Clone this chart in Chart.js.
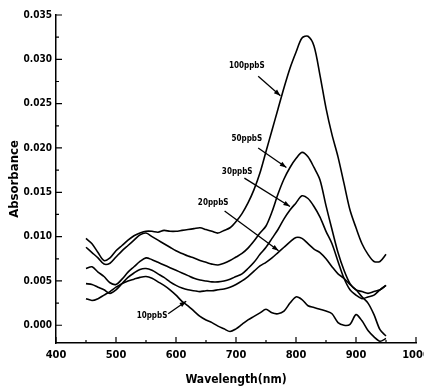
<!DOCTYPE html>
<html>
<head>
<meta charset="utf-8">
<script src="https://cdn.jsdelivr.net/npm/chart.js@4/dist/chart.umd.min.js"></script>
<style>
  html, body { margin: 0; padding: 0; background: #fff; }
  #wrap { width: 424px; height: 390px; position: relative; }
</style>
</head>
<body>
<div id="wrap"><canvas id="absChart"></canvas></div>
<script>
// Longitudes de onda (nm) y absorbancia de cada concentracion
const wavelengths = [450,460,470,480,490,500,510,520,530,540,550,560,570,580,590,600,610,620,630,640,650,660,670,680,690,700,710,720,730,740,750,760,770,780,790,800,810,820,830,840,850,860,870,880,890,900,910,920,930,940,950];

const abs100 = [0.0098,0.0092,0.0082,0.0073,0.0076,0.0084,0.0090,0.0096,0.0101,0.0104,0.0106,0.0106,0.0105,0.0107,0.0106,0.0106,0.0107,0.0108,0.0109,0.0110,0.0108,0.0106,0.0104,0.0107,0.0110,0.0117,0.0126,0.0138,0.0153,0.0172,0.0196,0.0220,0.0244,0.0268,0.0290,0.0308,0.0324,0.0326,0.0315,0.0282,0.0245,0.0215,0.0190,0.0160,0.0130,0.0110,0.0092,0.0080,0.0072,0.0072,0.0080];
const abs50 = [0.0088,0.0082,0.0076,0.0069,0.0070,0.0077,0.0084,0.0090,0.0096,0.0102,0.0104,0.0100,0.0096,0.0092,0.0088,0.0084,0.0081,0.0078,0.0076,0.0073,0.0071,0.0069,0.0068,0.0070,0.0073,0.0077,0.0081,0.0087,0.0095,0.0104,0.0112,0.0128,0.0148,0.0165,0.0178,0.0188,0.0195,0.0190,0.0178,0.0164,0.0135,0.0108,0.0082,0.0062,0.0047,0.0040,0.0038,0.0036,0.0038,0.0040,0.0045];
const abs30 = [0.0064,0.0066,0.0060,0.0055,0.0048,0.0046,0.0052,0.0060,0.0066,0.0072,0.0076,0.0074,0.0071,0.0068,0.0065,0.0062,0.0059,0.0056,0.0053,0.0051,0.0050,0.0049,0.0049,0.0050,0.0052,0.0055,0.0058,0.0064,0.0071,0.0080,0.0088,0.0098,0.0108,0.0120,0.0130,0.0138,0.0146,0.0143,0.0134,0.0122,0.0106,0.0092,0.0072,0.0053,0.0040,0.0034,0.0030,0.0032,0.0034,0.0040,0.0045];
const abs20 = [0.0047,0.0046,0.0043,0.0040,0.0036,0.0040,0.0047,0.0054,0.0059,0.0063,0.0064,0.0062,0.0058,0.0054,0.0049,0.0045,0.0042,0.0040,0.0039,0.0038,0.0039,0.0039,0.0040,0.0041,0.0043,0.0046,0.0050,0.0055,0.0061,0.0067,0.0071,0.0076,0.0082,0.0088,0.0094,0.0099,0.0098,0.0092,0.0086,0.0082,0.0075,0.0066,0.0058,0.0053,0.0046,0.0040,0.0032,0.0025,0.0012,-0.0005,-0.0012];
const abs10 = [0.0030,0.0028,0.0030,0.0034,0.0038,0.0043,0.0047,0.0050,0.0052,0.0054,0.0055,0.0053,0.0049,0.0045,0.0040,0.0034,0.0027,0.0022,0.0016,0.0010,0.0006,0.0003,-0.0001,-0.0004,-0.0007,-0.0004,0.0001,0.0006,0.0010,0.0014,0.0018,0.0014,0.0013,0.0016,0.0025,0.0032,0.0029,0.0022,0.0020,0.0018,0.0016,0.0013,0.0003,0.0000,0.0001,0.0012,0.0005,-0.0006,-0.0013,-0.0018,-0.0015];

const seriesNames = ['100ppbS','50ppbS','30ppbS','20ppbS','10ppbS'];
const seriesValues = [abs100, abs50, abs30, abs20, abs10];

const xTicks = [400,500,600,700,800,900,1000];
const yTicks = [0.000,0.005,0.010,0.015,0.020,0.025,0.030,0.035];
const yTickLabels = ['0.000','0.005','0.010','0.015','0.020','0.025','0.030','0.035'];

// Etiquetas con flecha (texto, posicion del texto, inicio y punta de la flecha)
const notes = [
  { text: '100ppbS', at: [718, 0.0292], from: [737, 0.0281], to: [774, 0.0259] },
  { text: '50ppbS',  at: [718, 0.0210], from: [737, 0.0200], to: [784, 0.0178] },
  { text: '30ppbS',  at: [702, 0.0173], from: [714, 0.0166], to: [790, 0.0134] },
  { text: '20ppbS',  at: [662, 0.0138], from: [681, 0.0129], to: [771, 0.0084] },
  { text: '10ppbS',  at: [560, 0.0011], from: [587, 0.0013], to: [617, 0.0027] }
];

const fontFam = "'Liberation Sans Narrow', 'DejaVu Sans Condensed', 'Liberation Sans', sans-serif";

// marcas hacia adentro y etiquetas con flecha
const decor = {
  id: 'decor',
  afterDraw(chart) {
    const { ctx, scales: { x, y }, chartArea: a } = chart;
    ctx.save();
    ctx.strokeStyle = '#000';
    ctx.lineWidth = 1.2;
    ctx.beginPath();
    for (let v = 400; v <= 1000; v += 50) {
      const px = x.getPixelForValue(v);
      const len = v % 100 === 0 ? 6 : 3;
      ctx.moveTo(px, a.bottom);
      ctx.lineTo(px, a.bottom - len);
    }
    for (let i = 0; i <= 14; i++) {
      const py = y.getPixelForValue(i * 0.0025);
      const len = i % 2 === 0 ? 6 : 3;
      ctx.moveTo(a.left, py);
      ctx.lineTo(a.left + len, py);
    }
    ctx.stroke();

    ctx.fillStyle = '#000';
    ctx.font = 'bold 8px ' + fontFam;
    ctx.textAlign = 'center';
    ctx.textBaseline = 'middle';
    notes.forEach(n => {
      ctx.fillText(n.text, x.getPixelForValue(n.at[0]), y.getPixelForValue(n.at[1]));
      const x1 = x.getPixelForValue(n.from[0]), y1 = y.getPixelForValue(n.from[1]);
      const x2 = x.getPixelForValue(n.to[0]), y2 = y.getPixelForValue(n.to[1]);
      ctx.lineWidth = 1.3;
      ctx.beginPath();
      ctx.moveTo(x1, y1);
      ctx.lineTo(x2, y2);
      ctx.stroke();
      const ang = Math.atan2(y2 - y1, x2 - x1);
      ctx.beginPath();
      ctx.moveTo(x2, y2);
      ctx.lineTo(x2 - 7 * Math.cos(ang - 0.35), y2 - 7 * Math.sin(ang - 0.35));
      ctx.lineTo(x2 - 7 * Math.cos(ang + 0.35), y2 - 7 * Math.sin(ang + 0.35));
      ctx.closePath();
      ctx.fill();
    });
    ctx.restore();
  }
};

const ctx = document.getElementById('absChart');

const myChart = new Chart(ctx, {
  type: 'line',
  data: {
    datasets: seriesNames.map((name, k) => ({
      label: name,
      data: wavelengths.map((w, i) => ({ x: w, y: seriesValues[k][i] })),
      borderColor: '#000',
      borderWidth: 1.6,
      pointRadius: 0,
      tension: 0.3,
      fill: false
    }))
  },
  options: {
    responsive: true,
    maintainAspectRatio: false,
    animation: false,
    layout: { padding: { top: 15, right: 8, left: 0, bottom: 0 } },
    plugins: { legend: { display: false }, tooltip: { enabled: false } },
    scales: {
      x: {
        type: 'linear',
        min: 400,
        max: 1000,
        afterBuildTicks: s => { s.ticks = xTicks.map(v => ({ value: v })); },
        afterFit: s => { s.height = 47; s.paddingLeft = 0; s.paddingRight = 0; },
        grid: { display: false, drawTicks: false },
        border: { display: true, color: '#000', width: 1.5 },
        ticks: {
          color: '#000',
          padding: 6,
          maxRotation: 0,
          autoSkip: false,
          font: { family: fontFam, size: 11, weight: 'bold' },
          callback: v => String(v)
        },
        title: {
          display: true,
          text: 'Wavelength(nm)',
          color: '#000',
          font: { family: fontFam, size: 12, weight: 'bold' },
          padding: { top: 0, bottom: 3 }
        }
      },
      y: {
        min: -0.002,
        max: 0.035,
        afterBuildTicks: s => { s.ticks = yTicks.map(v => ({ value: v })); },
        afterFit: s => { s.width = 56; s.paddingTop = 0; s.paddingBottom = 0; },
        grid: { display: false, drawTicks: false },
        border: { display: true, color: '#000', width: 1.5 },
        ticks: {
          color: '#000',
          padding: 4,
          autoSkip: false,
          font: { family: fontFam, size: 10, weight: 'bold' },
          callback: v => yTickLabels[yTicks.findIndex(t => Math.abs(t - v) < 1e-9)]
        },
        title: {
          display: true,
          text: 'Absorbance',
          color: '#000',
          font: { family: fontFam, size: 13, weight: 'bold' },
          padding: { top: 7, bottom: 0 }
        }
      }
    }
  },
  plugins: [decor]
});
</script>
</body>
</html>
